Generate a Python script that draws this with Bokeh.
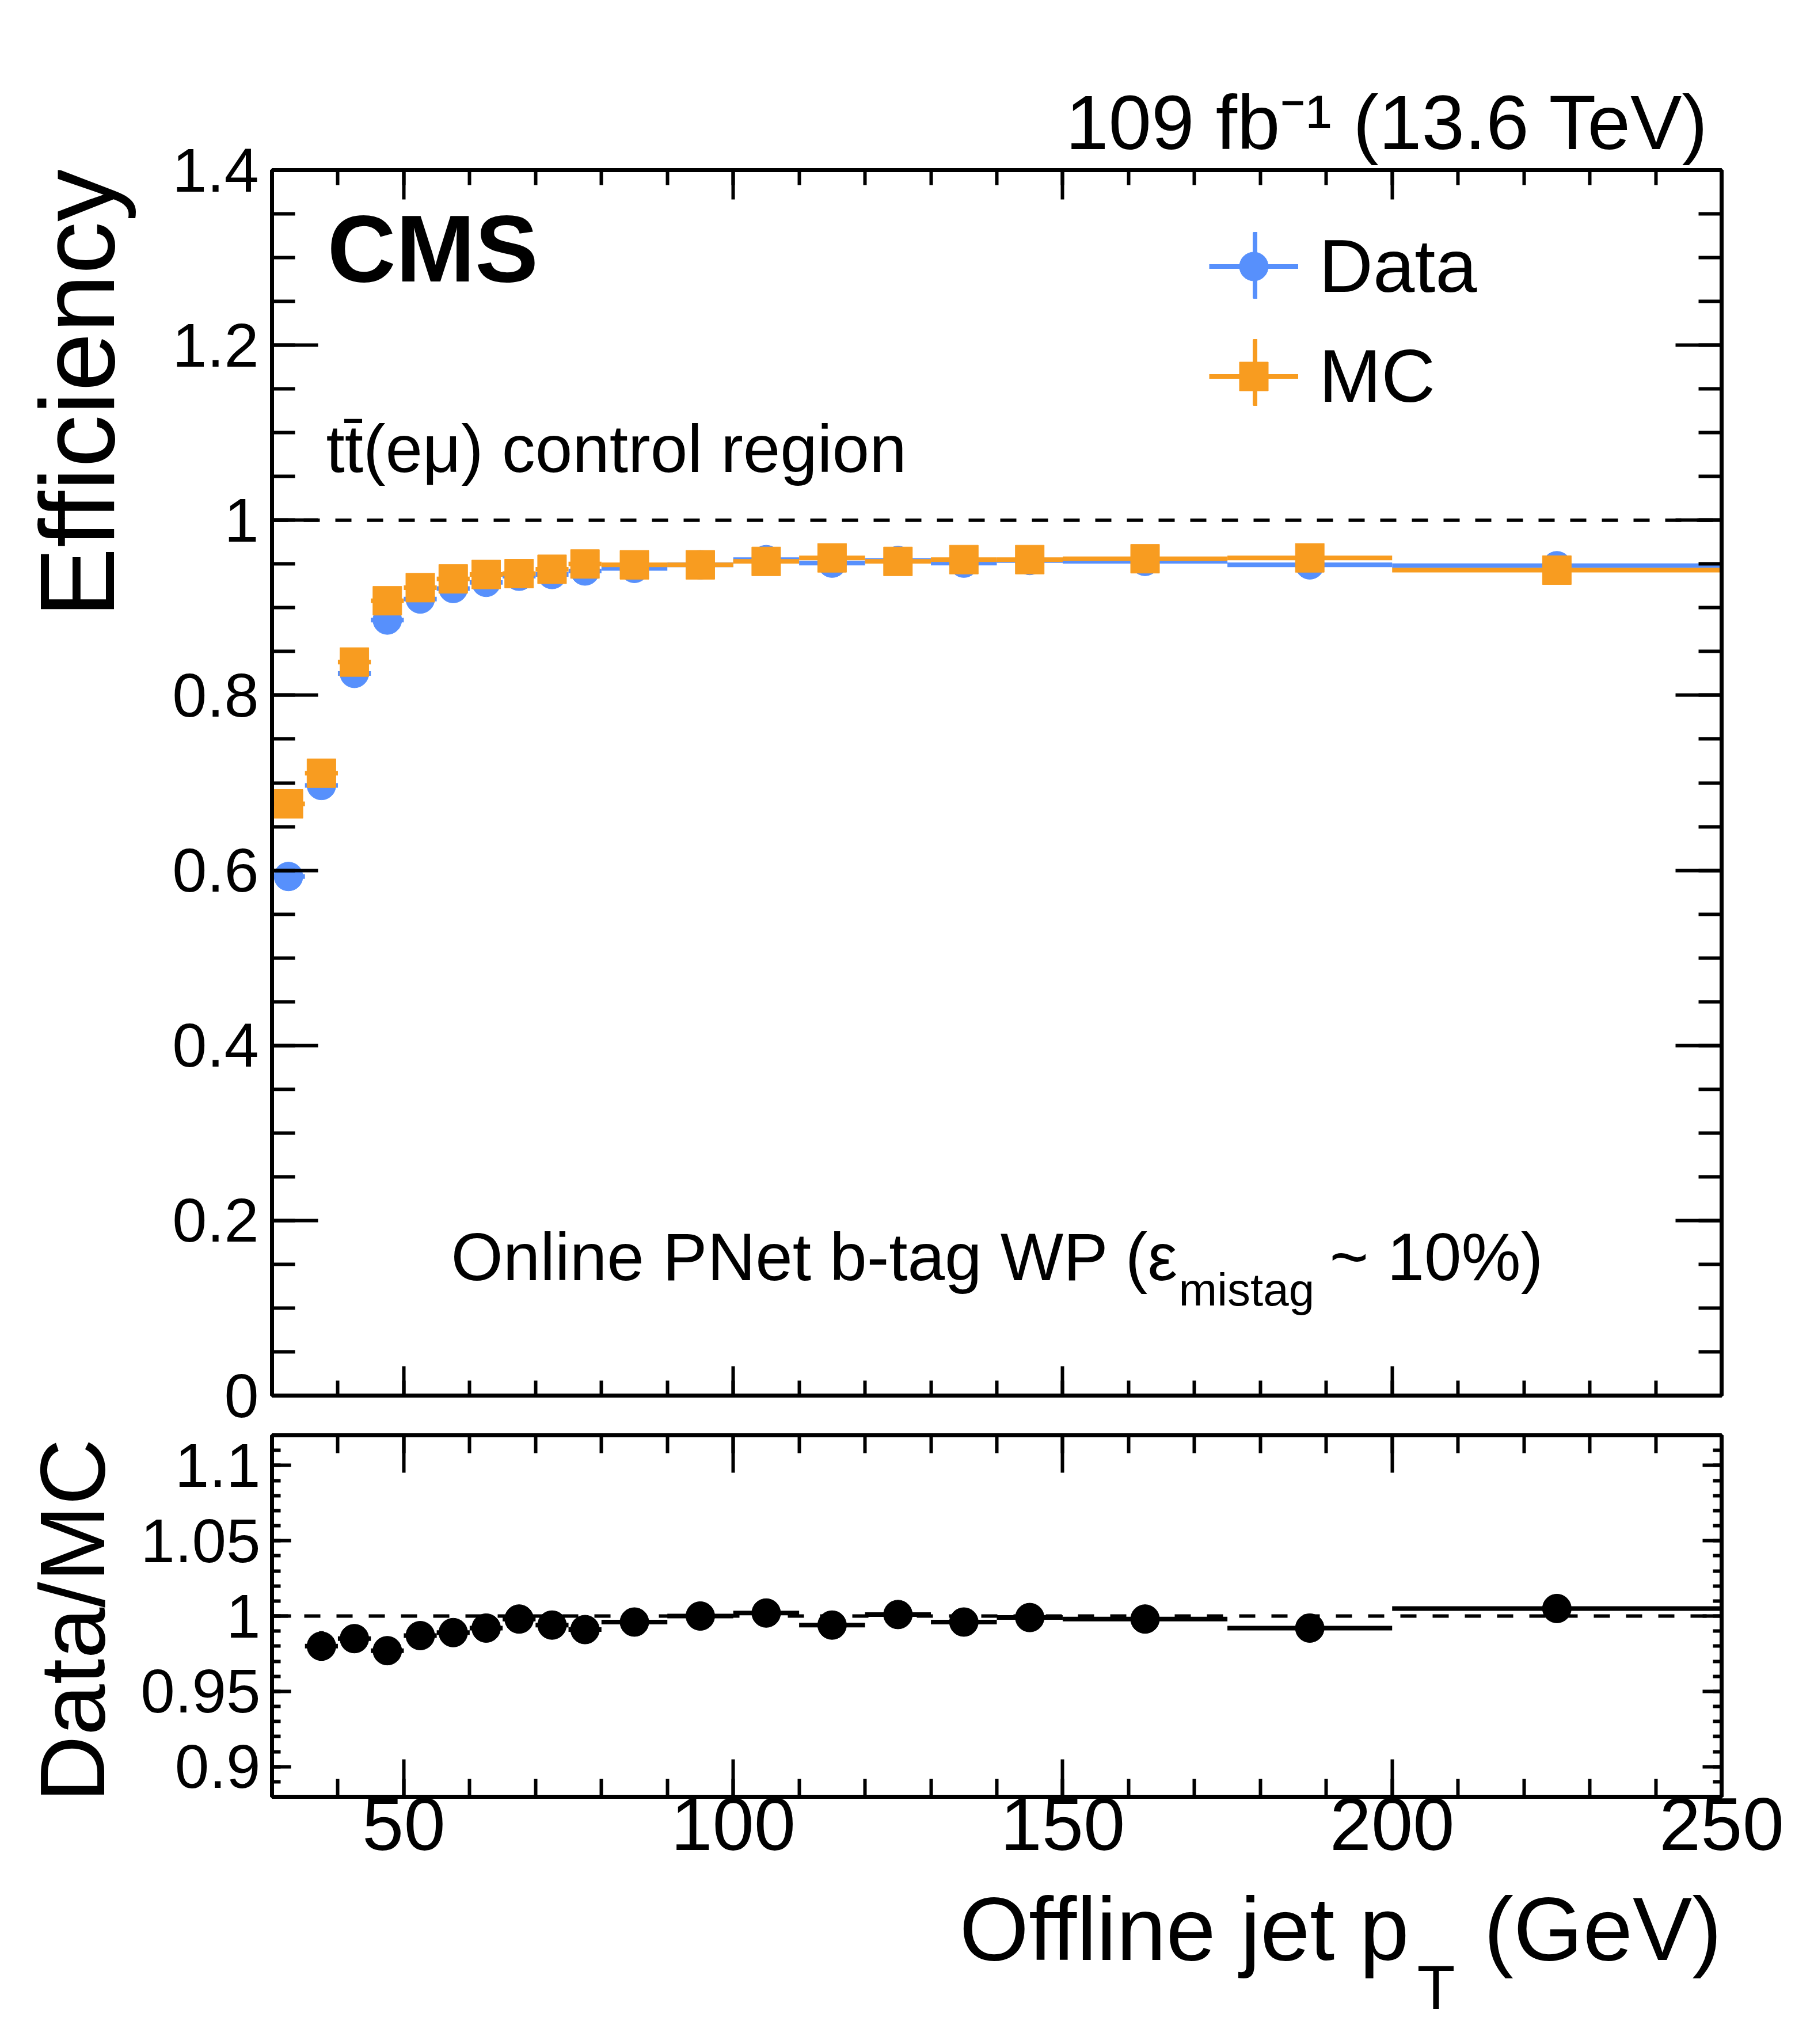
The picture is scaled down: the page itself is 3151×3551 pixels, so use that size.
import math
from bokeh.plotting import figure
from bokeh.models import (Range1d, FixedTicker, LinearAxis, Span, Label, Legend,
                          LegendItem, ColumnDataSource, CustomLabelingPolicy)
from bokeh.layouts import column, row
from bokeh.embed import file_html
from bokeh.resources import INLINE

# ---------------- data ----------------
bin_lo = [30, 35, 40, 45, 50, 55, 60, 65, 70, 75, 80, 90, 100, 110, 120, 130, 140, 150, 175, 200]
bin_hi = [35, 40, 45, 50, 55, 60, 65, 70, 75, 80, 90, 100, 110, 120, 130, 140, 150, 175, 200, 250]
eff_data = [0.593, 0.697, 0.825, 0.886, 0.910, 0.922, 0.929, 0.936, 0.938, 0.942,
            0.945, 0.949, 0.955, 0.951, 0.954, 0.951, 0.954, 0.953, 0.949, 0.948]
err_data = [0.006, 0.006, 0.005, 0.004, 0.004, 0.004, 0.004, 0.004, 0.004, 0.004,
            0.003, 0.003, 0.004, 0.004, 0.004, 0.004, 0.005, 0.004, 0.005, 0.005]
eff_mc = [0.676, 0.711, 0.838, 0.908, 0.923, 0.933, 0.938, 0.939, 0.944, 0.950,
          0.949, 0.949, 0.953, 0.957, 0.953, 0.955, 0.955, 0.956, 0.957, 0.943]
err_mc = [0.002, 0.002, 0.002, 0.002, 0.002, 0.002, 0.002, 0.002, 0.002, 0.002,
          0.002, 0.002, 0.002, 0.002, 0.002, 0.002, 0.002, 0.002, 0.002, 0.002]
# first bin is off the ratio scale in the reference (not drawn)
ratio = [None, 0.980, 0.985, 0.977, 0.987, 0.989, 0.992, 0.998, 0.994, 0.991,
         0.996, 1.000, 1.002, 0.994, 1.001, 0.996, 0.999, 0.998, 0.992, 1.005]
err_ratio = [0.010, 0.010, 0.009, 0.008, 0.008, 0.008, 0.008, 0.008, 0.008, 0.008,
             0.007, 0.007, 0.008, 0.008, 0.008, 0.008, 0.009, 0.008, 0.009, 0.009]

x_major = [50, 100, 150, 200, 250]
x_labels = ["50", "100", "150", "200", "250"]
x_minor = list(range(30, 251, 10))
main_y_major = [0, 0.2, 0.4, 0.6, 0.8, 1, 1.2, 1.4]
main_y_labels = ["0", "0.2", "0.4", "0.6", "0.8", "1", "1.2", "1.4"]
main_y_minor = [round(i * 0.05, 2) for i in range(29)]
ratio_y_major = [0.9, 0.95, 1, 1.05, 1.1]
ratio_y_labels = ["0.9", "0.95", "1", "1.05", "1.1"]
ratio_y_minor = [round(0.88 + i * 0.01, 2) for i in range(25)]

BLUE = "#5790fc"
ORANGE = "#f89c20"
FONT = "Liberation Sans"

nan = float("nan")
centers = [(a + b) / 2 for a, b in zip(bin_lo, bin_hi)]
r_vals = [nan if v is None else v for v in ratio]

src = ColumnDataSource(dict(
    lo=bin_lo, hi=bin_hi, x=centers,
    d=eff_data, d_lo=[v - e for v, e in zip(eff_data, err_data)], d_hi=[v + e for v, e in zip(eff_data, err_data)],
    m=eff_mc, m_lo=[v - e for v, e in zip(eff_mc, err_mc)], m_hi=[v + e for v, e in zip(eff_mc, err_mc)],
    r=r_vals, r_lo=[v - e for v, e in zip(r_vals, err_ratio)], r_hi=[v + e for v, e in zip(r_vals, err_ratio)],
))

# ---------------- layout geometry (page pixels) ----------------
W, H = 3145, 3545
FR_L, FR_R = 472, 2990            # frame left / right on the page
LS1, LS2 = 250, 230               # strips holding the rotated y titles
M_TOP, M_FRAME, M_BOT = 295, 2129, 61
R_TOP, R_FRAME, R_BOT = 8, 628, 140
H1 = M_TOP + M_FRAME + M_BOT
H2 = R_TOP + R_FRAME + R_BOT
BOT_H = H - H1 - H2

O_P1 = (LS1, 0)
O_L1 = (0, 0)
O_P2 = (LS2, H1)
O_L2 = (0, H1)
O_BOT = (0, H1 + H2)

xr = Range1d(30, 250)

NO_LABELS = CustomLabelingPolicy(code="""
for (const i of indices) { indices.unset(i) }
return indices
""")


def style_fig(p):
    p.grid.visible = False
    p.outline_line_color = "black"
    p.outline_line_width = 6
    p.background_fill_color = "white"
    p.border_fill_color = "white"


def style_axis(ax, ticks, minor, major_len, minor_len, labels=None, font_size="110px", standoff=10):
    ax.ticker = FixedTicker(ticks=ticks, minor_ticks=minor)
    ax.axis_line_width = 7
    ax.axis_line_color = "black"
    ax.major_tick_line_width = 6
    ax.minor_tick_line_width = 6
    ax.major_tick_in = major_len
    ax.major_tick_out = 0
    ax.minor_tick_in = minor_len
    ax.minor_tick_out = 0
    ax.major_label_text_font = FONT
    ax.major_label_text_color = "black"
    if labels is None:
        ax.major_label_policy = NO_LABELS
        ax.major_label_text_font_size = "1px"
        ax.major_label_standoff = 0
    else:
        ax.major_label_text_font_size = font_size
        ax.major_label_standoff = standoff
        ax.major_label_overrides = {t: s for t, s in zip(ticks, labels)}


def strip(w, h):
    s = figure(width=w, height=h, x_range=Range1d(0, w), y_range=Range1d(h, 0),
               x_axis_type=None, y_axis_type=None, toolbar_location=None,
               output_backend="svg", min_border=0, outline_line_color=None)
    s.background_fill_color = "white"
    s.border_fill_color = "white"
    return s


def lab(p, origin, page_x, page_y, text, size, bold=False, angle=0.0, align="left"):
    """Text whose baseline point sits at reference-page pixel (page_x, page_y)."""
    px = int(size.replace("px", ""))
    x = page_x - origin[0]
    y = page_y - origin[1]
    shift = 0.34 * px
    if angle == 0.0:
        y -= shift
        x -= 8
    else:
        x -= shift
    p.add_layout(Label(x=x, y=y, x_units="canvas", y_units="canvas", text=text,
                       text_font=FONT, text_font_size=size,
                       text_font_style="bold" if bold else "normal", text_color="black",
                       angle=angle, text_align=align, text_baseline="alphabetic"))


# ---------------- main panel ----------------
p1 = figure(width=W - LS1, height=H1, x_range=xr, y_range=Range1d(0, 1.4),
            output_backend="svg", toolbar_location=None,
            min_border_left=FR_L - LS1, min_border_right=W - FR_R,
            min_border_top=M_TOP, min_border_bottom=M_BOT)
style_fig(p1)
p1.title.text = "109 fb\u207b\u00b9 (13.6 TeV)"
p1.title.align = "right"
p1.title.offset = 22
p1.title.text_font = FONT
p1.title.text_font_size = "134px"
p1.title.text_font_style = "normal"
p1.title.text_color = "black"
p1.add_layout(LinearAxis(), "above")
p1.add_layout(LinearAxis(), "right")
style_axis(p1.below[0], x_major, x_minor, 51, 26)
style_axis(p1.above[-1], x_major, x_minor, 51, 26)
style_axis(p1.left[0], main_y_major, main_y_minor, 80, 40, main_y_labels, "108px", 23)
style_axis(p1.right[0], main_y_major, main_y_minor, 80, 40)

p1.add_layout(Span(location=1.0, dimension="width", line_color="black", line_width=6, line_dash="28 27"))

# data: bin-width bars, error bars (zero-width vbars) and markers
d_h = p1.segment(x0="lo", x1="hi", y0="d", y1="d", source=src, line_color=BLUE, line_width=8)
d_v = p1.vbar(x="x", width=0, bottom="d_lo", top="d_hi", source=src,
              line_color=BLUE, fill_color=BLUE, line_width=8)
d_pt = p1.scatter(x="x", y="d", source=src, marker="circle", size=50, fill_color=BLUE, line_color=BLUE)
m_h = p1.segment(x0="lo", x1="hi", y0="m", y1="m", source=src, line_color=ORANGE, line_width=8)
m_v = p1.vbar(x="x", width=0, bottom="m_lo", top="m_hi", source=src,
              line_color=ORANGE, fill_color=ORANGE, line_width=8)
m_pt = p1.scatter(x="x", y="m", source=src, marker="square", size=50, fill_color=ORANGE, line_color=ORANGE)

legend = Legend(items=[LegendItem(label="Data", renderers=[d_h, d_pt]),
                       LegendItem(label="MC", renderers=[m_h, m_pt])],
                location=(1628, 1696), orientation="vertical",
                glyph_width=155, glyph_height=125, spacing=41, label_standoff=36,
                padding=0, margin=0, border_line_color=None, background_fill_alpha=0,
                label_text_font=FONT, label_text_font_size="130px", label_text_color="black")
p1.add_layout(legend, "center")

# vertical error-bar strokes of the legend symbols
legend_v = Legend(items=[LegendItem(label="", renderers=[d_v]),
                         LegendItem(label="", renderers=[m_v])],
                  location=(1704, 1710), orientation="vertical",
                  glyph_width=8, glyph_height=135, spacing=51, label_standoff=0,
                  padding=0, margin=0, border_line_color=None, background_fill_alpha=0,
                  label_text_font=FONT, label_text_font_size="10px", label_width=0)
p1.add_layout(legend_v, "center")

lab(p1, O_P1, 576, 488, "CMS", "165px", bold=True)
lab(p1, O_P1, 574, 819, "tt\u0304(e\u03bc) control region", "116px")
lab(p1, O_P1, 791, 2223, "Online PNet b-tag WP (\u03b5", "116px")
lab(p1, O_P1, 2055, 2267, "mistag", "80px")
lab(p1, O_P1, 2317, 2223, "~ 10%)", "116px")

# ---------------- ratio panel ----------------
p2 = figure(width=W - LS2, height=H2, x_range=xr, y_range=Range1d(0.88, 1.12),
            output_backend="svg", toolbar_location=None,
            min_border_left=FR_L - LS2, min_border_right=W - FR_R,
            min_border_top=R_TOP, min_border_bottom=R_BOT)
style_fig(p2)
p2.add_layout(LinearAxis(), "above")
p2.add_layout(LinearAxis(), "right")
style_axis(p2.below[0], x_major, x_minor, 65, 31, x_labels, "130px", 2)
style_axis(p2.above[0], x_major, x_minor, 65, 31)
style_axis(p2.left[0], ratio_y_major, ratio_y_minor, 33, 15, ratio_y_labels, "107px", 20)
style_axis(p2.right[0], ratio_y_major, ratio_y_minor, 33, 15)

p2.add_layout(Span(location=1.0, dimension="width", line_color="black", line_width=6, line_dash="28 28"))
p2.segment(x0="lo", x1="hi", y0="r", y1="r", source=src, line_color="black", line_width=8)
p2.vbar(x="x", width=0, bottom="r_lo", top="r_hi", source=src,
        line_color="black", fill_color="black", line_width=8)
p2.scatter(x="x", y="r", source=src, marker="circle", size=50, fill_color="black", line_color="black")

# ---------------- text strips around the panels ----------------
left1 = strip(LS1, H1)
lab(left1, O_L1, 196, 293, "Efficiency", "183px", angle=math.pi / 2, align="right")

left2 = strip(LS2, H2)
lab(left2, O_L2, 179, 2499, "Data/MC", "160px", angle=math.pi / 2, align="right")

bot = strip(W, BOT_H)
lab(bot, O_BOT, 1674, 3404, "Offline jet p", "155px")
lab(bot, O_BOT, 2469, 3489, "T", "108px")
lab(bot, O_BOT, 2585, 3404, "(GeV)", "155px")

layout = column(row(left1, p1, spacing=0), row(left2, p2, spacing=0), bot, spacing=0)
open("out.html", "w").write(file_html(layout, INLINE))
